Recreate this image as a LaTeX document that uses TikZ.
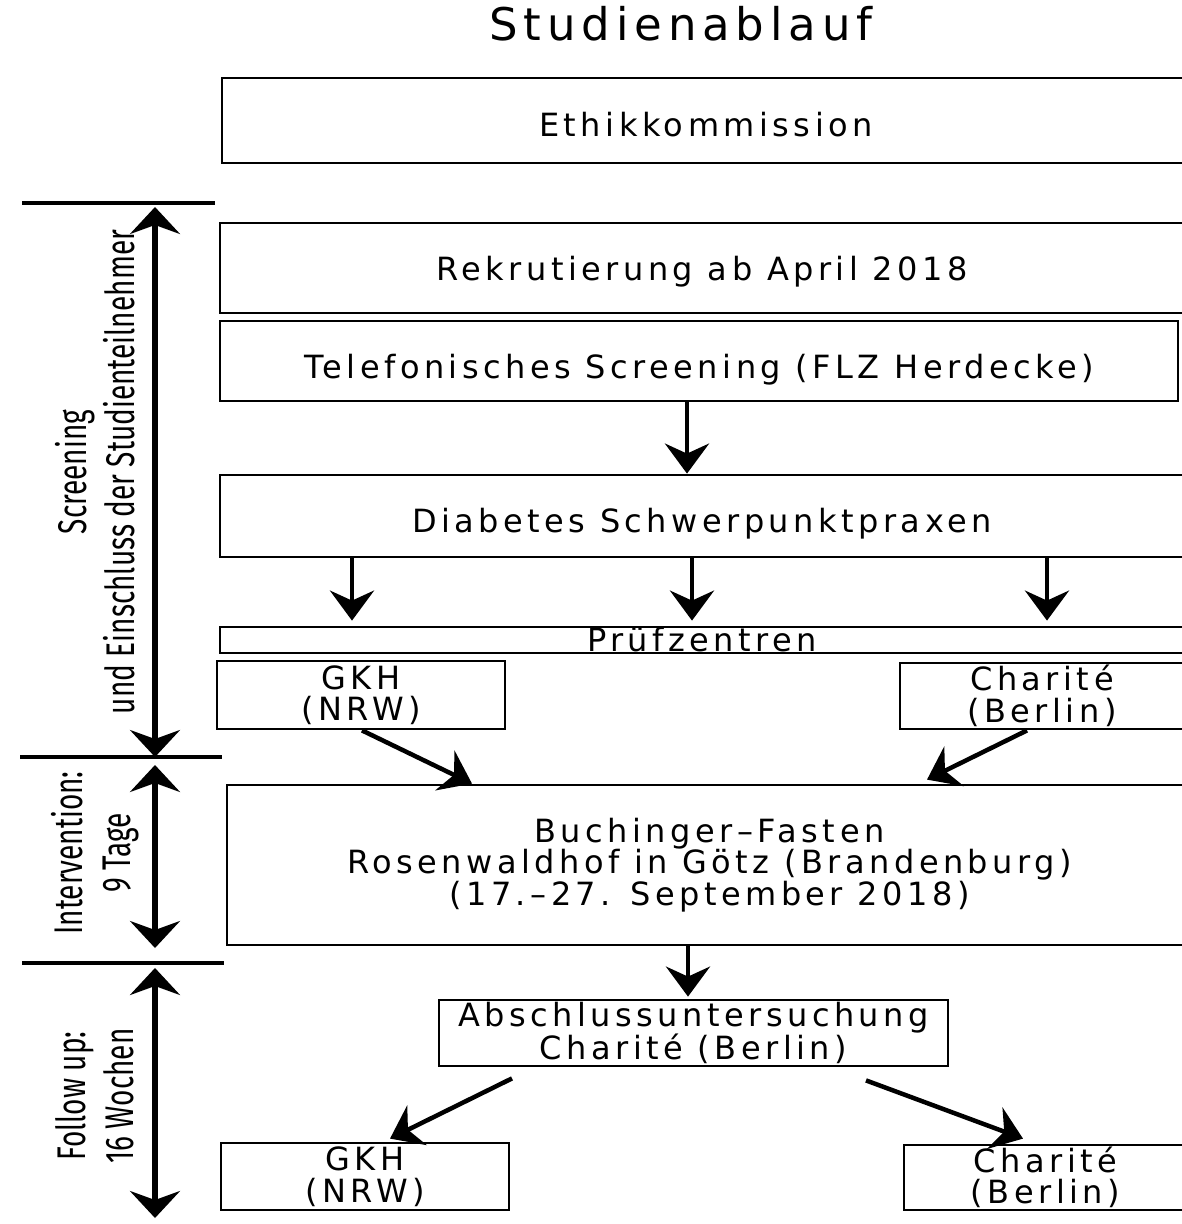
\documentclass[tikz,border=0pt]{standalone}
\usepackage{fontspec}
\setmainfont{DejaVu Sans}[LetterSpace=14]
\newfontfamily\titlefont{DejaVu Sans}[LetterSpace=13]
\newfontfamily\sidefont{Fira Sans}[FakeStretch=0.7]
\usetikzlibrary{arrows.meta}

\begin{document}
\begin{tikzpicture}[x=1pt,y=-1pt,
  box/.style={draw,line width=2.8pt,inner sep=0pt,align=center,font=\fontsize{32}{31.5}\selectfont},
  drop/.style={text height=#1,text depth=0pt},
  conn/.style={line width=4.5pt,-{Stealth[length=30pt,width=44pt,inset=10pt]}},
  span/.style={line width=6pt,{Stealth[length=27pt,width=50pt,inset=9pt]}-{Stealth[length=27pt,width=50pt,inset=9pt]}},
  sep/.style={line width=4pt},
  side/.style={rotate=90,align=center,font=\sidefont\fontsize{40}{48}\selectfont}]
\useasboundingbox (0,0) rectangle (1182,1224);
\clip (0,0) rectangle (1182,1224);
\node (title) at (681,24) {\titlefont\fontsize{45}{50}\selectfont Studienablauf};
\node[box,drop=32pt,minimum width=968pt,minimum height=85pt] (ethik) at (706,120.5) {Ethikkommission};
\node[box,drop=25pt,minimum width=964pt,minimum height=90pt] (rekrut) at (702,268) {Rekrutierung ab April 2018};
\node[box,drop=35pt,minimum width=958pt,minimum height=80pt] (telef) at (699,361) {Telefonisches Screening (FLZ Herdecke)};
\node[box,drop=33pt,minimum width=964pt,minimum height=82pt] (diab) at (702,516) {Diabetes Schwerpunktpraxen};
\node[box,drop=22pt,minimum width=964pt,minimum height=26pt] (pruef) at (702,640) {Prüfzentren};
\node[box,minimum width=288pt,minimum height=68pt] (gkh1) at (361,695) {GKH\\(NRW)};
\node[box,minimum width=284pt,minimum height=66pt] (char1) at (1042,696) {Charité\\(Berlin)};
\node[box,minimum width=965pt,minimum height=160pt] (buch) at (709.5,865) {Buchinger–Fasten\\Rosenwaldhof in Götz (Brandenburg)\\(17.–27. September 2018)};
\node[box,minimum width=509pt,minimum height=66pt] (abs) at (693.5,1033) {Abschlussuntersuchung\\Charité (Berlin)};
\node[box,minimum width=288pt,minimum height=67pt] (gkh2) at (365,1176.5) {GKH\\(NRW)};
\node[box,minimum width=283pt,minimum height=65pt] (char2) at (1045.5,1177.5) {Charité\\(Berlin)};
\node[side] (screen) at (95,472) {Screening\\und Einschluss der Studienteilnehmer};
\node[side] (interv) at (95,853) {Intervention:\\9 Tage};
\node[side] (follow) at (95,1096) {Follow up:\\16 Wochen};
\coordinate (l1a) at (22,203);
\coordinate (l1b) at (215,203);
\coordinate (l2a) at (20,757);
\coordinate (l2b) at (222,757);
\coordinate (l3a) at (22,963);
\coordinate (l3b) at (224,963);
\coordinate (a1) at (155,207);
\coordinate (b1) at (155,757);
\coordinate (a2) at (155,765);
\coordinate (b2) at (155,948);
\coordinate (a3) at (155,968);
\coordinate (b3) at (155,1218);
\draw[sep] (l1a) -- (l1b);
\draw[sep] (l2a) -- (l2b);
\draw[sep] (l3a) -- (l3b);
\draw[span] (a1) -- (b1);
\draw[span] (a2) -- (b2);
\draw[span] (a3) -- (b3);
\draw[conn] ([xshift=-12pt]telef.south) -- ([xshift=-15pt]diab.north);
\foreach \dx in {-350,-10,345}
  \draw[conn] ([xshift=\dx pt]diab.south) -- ([xshift=\dx pt,yshift=5pt]pruef.north);
\draw[conn] ([xshift=1pt]gkh1.south) -- ([xshift=-237.5pt]buch.north);
\draw[conn] ([xshift=-15pt]char1.south) -- ([xshift=217.5pt,yshift=4pt]buch.north);
\draw[conn] ([xshift=-21.5pt]buch.south) -- ([xshift=-5.5pt,yshift=2pt]abs.north);
\draw[conn] ([xshift=-181.5pt,yshift=-11pt]abs.south) -- ([xshift=25pt,yshift=3pt]gkh2.north);
\draw[conn] ([xshift=172.5pt,yshift=-13pt]abs.south) -- ([xshift=-22.5pt,yshift=5pt]char2.north);
\end{tikzpicture}
\end{document}
